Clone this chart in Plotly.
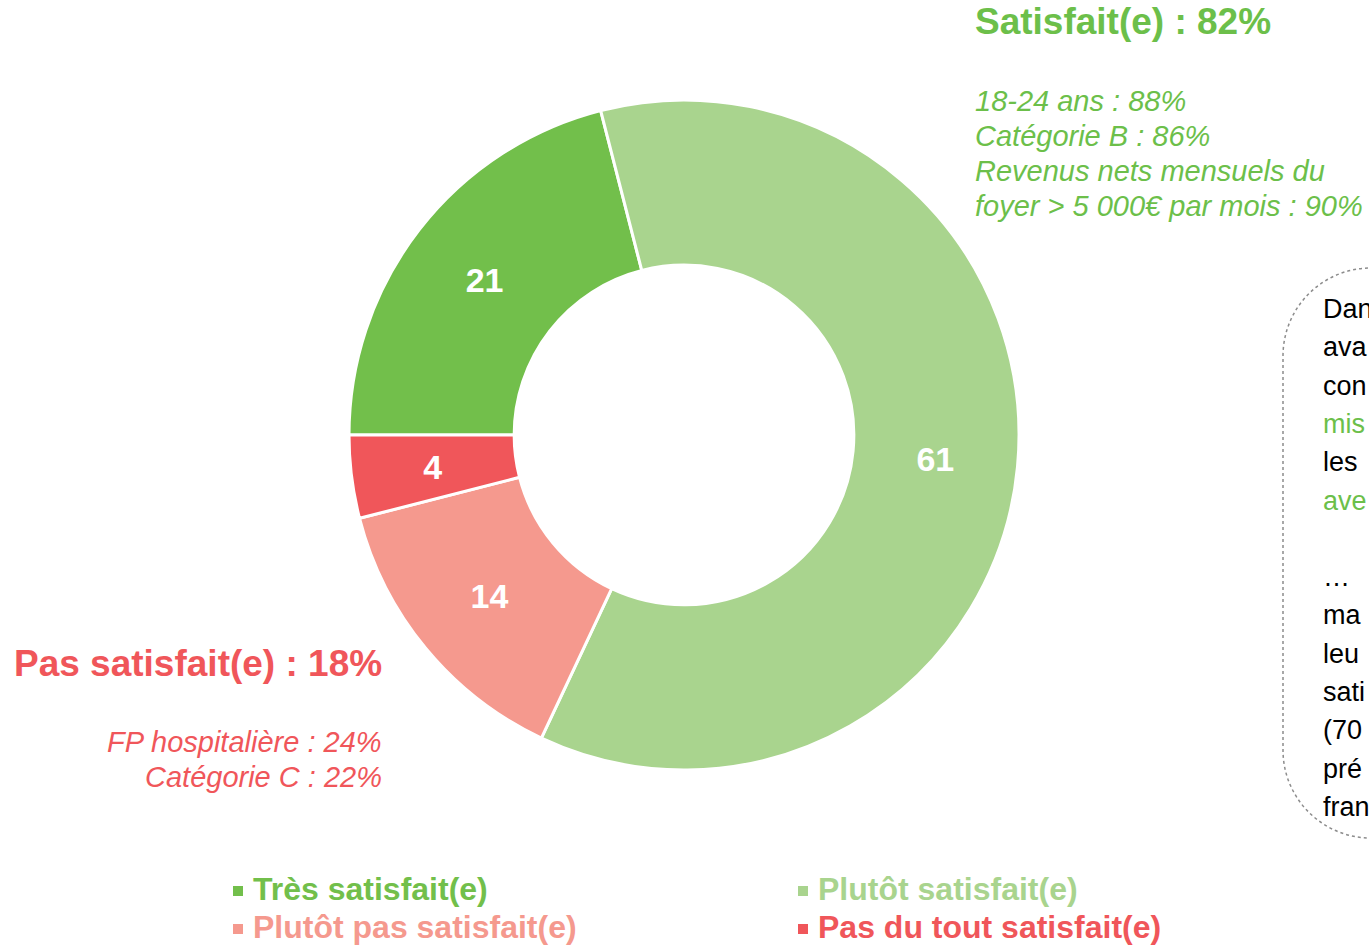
import plotly.graph_objects as go

W, H = 1369, 947

# ---- data ----
categories = ["Très satisfait(e)", "Plutôt satisfait(e)", "Plutôt pas satisfait(e)", "Pas du tout satisfait(e)"]
values = [21, 61, 14, 4]
colors = ["#72BF4B", "#A9D48E", "#F5998E", "#F0565A"]

sat_title = "Satisfait(e) : 82%"
sat_details = ["18-24 ans : 88%", "Catégorie B : 86%", "Revenus nets mensuels du", "foyer > 5 000€ par mois : 90%"]
unsat_title = "Pas satisfait(e) : 18%"
unsat_details = ["FP hospitalière : 24%", "Catégorie C : 22%"]

box_lines = ["Dan", "ava", "con", "mis", "les", "ave", "", "…", "ma", "leu", "sati", "(70", "pré", "fran"]
box_line_colors = ["#000000", "#000000", "#000000", "#6CBF4A", "#000000", "#6CBF4A", "#000000",
                   "#000000", "#000000", "#000000", "#000000", "#000000", "#000000", "#000000"]

GREEN = "#6CBF4A"
RED = "#F0565A"
FONT = "Liberation Sans, Arial, sans-serif"


def px(x):
    return x / W


def py(y):
    return 1 - y / H


# the thinnest slice gets its label from a transparent overlay pie (so it sits mid-ring)
small_idx = values.index(min(values))
main_text = ["" if i == small_idx else f"<b>{v}</b>" for i, v in enumerate(values)]
small_text = [f"<b>{v}</b>" if i == small_idx else "" for i, v in enumerate(values)]

cx, R = 684, 335
fig = go.Figure()
fig.add_trace(go.Pie(
    labels=categories,
    values=values,
    hole=0.507,
    sort=False,
    direction="clockwise",
    rotation=270,
    marker=dict(colors=colors, line=dict(color="#FFFFFF", width=3)),
    text=main_text,
    textinfo="text",
    textposition="inside",
    insidetextorientation="horizontal",
    insidetextfont=dict(family=FONT, size=34, color="#FFFFFF"),
    domain=dict(x=[px(cx - R), px(cx + R)], y=[py(770), py(100)]),
    hoverinfo="label+value",
    showlegend=False,
))
R2 = 285
fig.add_trace(go.Pie(
    labels=categories,
    values=values,
    hole=0,
    sort=False,
    direction="clockwise",
    rotation=270,
    marker=dict(colors=["rgba(0,0,0,0)"] * len(values), line=dict(width=0)),
    text=small_text,
    textinfo="text",
    textposition="inside",
    insidetextorientation="horizontal",
    insidetextfont=dict(family=FONT, size=34, color="#FFFFFF"),
    domain=dict(x=[px(cx - R2), px(cx + R2)], y=[py(435 + R2), py(435 - R2)]),
    hoverinfo="skip",
    showlegend=False,
))

ann = []
shapes = []
ann.append(dict(text=f"<b>{sat_title}</b>", x=px(973), y=py(22), xanchor="left", yanchor="middle",
                font=dict(family=FONT, size=37, color=GREEN), showarrow=False))
for i, t in enumerate(sat_details):
    ann.append(dict(text=f"<i>{t}</i>", x=px(973), y=py(101 + 35 * i), xanchor="left", yanchor="middle",
                    font=dict(family=FONT, size=29, color=GREEN), showarrow=False))
ann.append(dict(text=f"<b>{unsat_title}</b>", x=px(384), y=py(663), xanchor="right", yanchor="middle",
                font=dict(family=FONT, size=37, color=RED), showarrow=False))
for i, t in enumerate(unsat_details):
    ann.append(dict(text=f"<i>{t}</i>", x=px(384), y=py(742 + 35 * i), xanchor="right", yanchor="middle",
                    font=dict(family=FONT, size=29, color=RED), showarrow=False))
for i, (t, c) in enumerate(zip(box_lines, box_line_colors)):
    if t:
        ann.append(dict(text=t, x=px(1321), y=py(309 + 38.3 * i), xanchor="left", yanchor="middle",
                        font=dict(family=FONT, size=27, color=c), showarrow=False))

# legend (2 columns x 2 rows), built from the categories / colors
leg_x = [233, 798, 233, 798]
leg_y = [889, 889, 927, 927]
for n, c, lx, ly in zip(categories, colors, leg_x, leg_y):
    shapes.append(dict(type="rect", xref="paper", yref="paper",
                       x0=px(lx), x1=px(lx + 10), y0=py(ly - 3), y1=py(ly + 7),
                       fillcolor=c, line=dict(width=0)))
    ann.append(dict(text=f"<b>{n}</b>", x=px(lx + 18), y=py(ly), xanchor="left", yanchor="middle",
                    font=dict(family=FONT, size=32, color=c), showarrow=False))

# dotted rounded box (open on the right, runs off the page)
x0, y0, y1, r = 1283, 268, 838, 88
k = 0.5523 * r
path = (f"M {px(1500)},{py(y0)} L {px(x0 + r)},{py(y0)} "
        f"C {px(x0 + r - k)},{py(y0)} {px(x0)},{py(y0 + r - k)} {px(x0)},{py(y0 + r)} "
        f"L {px(x0)},{py(y1 - r)} "
        f"C {px(x0)},{py(y1 - r + k)} {px(x0 + r - k)},{py(y1)} {px(x0 + r)},{py(y1)} "
        f"L {px(1500)},{py(y1)}")
shapes.append(dict(type="path", path=path, xref="paper", yref="paper",
                   line=dict(color="#8C8C8C", width=1.5, dash="dot")))

fig.update_layout(
    width=W, height=H,
    margin=dict(l=0, r=0, t=0, b=0),
    paper_bgcolor="#FFFFFF", plot_bgcolor="#FFFFFF",
    font=dict(family=FONT),
    annotations=ann,
    shapes=shapes,
    showlegend=False,
)

fig.write_html("out.html", config={"displayModeBar": False},
               post_script="document.body.style.margin='0';")
